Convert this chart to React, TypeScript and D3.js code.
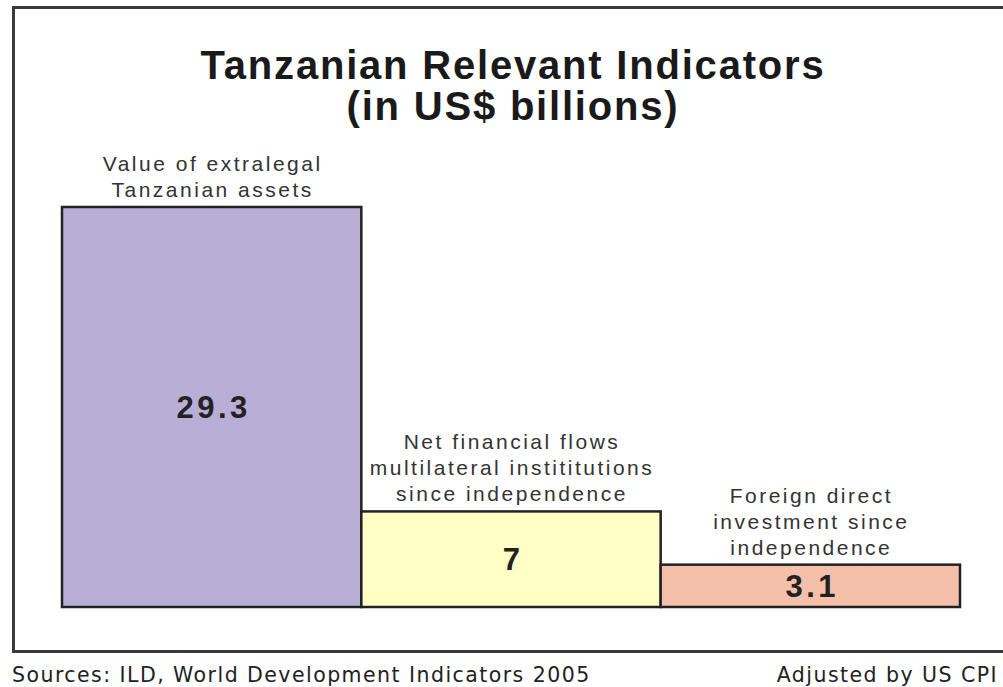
import React from "react";
import * as d3 from "d3";

const categories = ["extralegal", "multilateral", "fdi"];
const values = [29.3, 7, 3.1];
const valueLabels = ["29.3", "7", "3.1"];
const categoryLabels = [
  ["Value of extralegal", "Tanzanian assets"],
  ["Net financial flows", "multilateral instititutions", "since independence"],
  ["Foreign direct", "investment since", "independence"],
];
const colors = ["#b9aed6", "#ffffc6", "#f5c0aa"];
const titleLines = ["Tanzanian Relevant Indicators", "(in US$ billions)"];
const sourceText = "Sources: ILD, World Development Indicators 2005";
const noteText = "Adjusted by US CPI";

export default function App() {
  const W = 1003, H = 687;
  const x = d3.scaleBand<string>().domain(categories).range([62, 960]).paddingInner(0).paddingOuter(0);
  const y = d3.scaleLinear().domain([0, 29.3]).range([607, 207]);
  const labelFont = "'Liberation Sans', Arial, sans-serif";
  return (
    <svg width={W} height={H} style={{ position: "absolute", left: 0, top: 0, background: "#fff" }}>
      <rect x={0} y={0} width={W} height={H} fill="#fff" />
      {/* frame */}
      <path d={`M${W + 5},7.5 H13.5 V651.5 H${W + 5}`} fill="none" stroke="#3a3a3a" strokeWidth={3} />
      {titleLines.map((t, i) => (
        <text key={i} x={513} y={79 + i * 41} textAnchor="middle" fontFamily={labelFont} fontWeight="bold" fontSize={40} letterSpacing={1.8} fill="#1a1a1a">
          {t}
        </text>
      ))}
      {categories.map((c, i) => {
        const bx = x(c)!;
        const bw = x.bandwidth();
        const top = y(values[i]);
        const lines = categoryLabels[i];
        const cx = bx + bw / 2;
        return (
          <g key={c}>
            <rect x={bx} y={top} width={bw} height={y(0) - top} fill={colors[i]} stroke="#222" strokeWidth={2.5} />
            {lines.map((l, j) => (
              <text key={j} x={cx + 1} y={top - 10 - (lines.length - 1 - j) * 26} textAnchor="middle" fontFamily={labelFont} fontSize={21} fill="#333" letterSpacing={2.5}>
                {l}
              </text>
            ))}
            <text x={cx + 2} y={Math.min((top + y(0)) / 2 + 11, y(0) - 9)} textAnchor="middle" fontFamily={labelFont} fontWeight="bold" fontSize={31} letterSpacing={3.5} fill="#222">
              {valueLabels[i]}
            </text>
          </g>
        );
      })}
      <text x={12} y={682} fontFamily="'DejaVu Sans', Verdana, sans-serif" fontSize={20.5} letterSpacing={1.45} fill="#222">
        {sourceText}
      </text>
      <text x={998} y={682} textAnchor="end" fontFamily="'DejaVu Sans', Verdana, sans-serif" fontSize={20.5} letterSpacing={1.45} fill="#222">
        {noteText}
      </text>
    </svg>
  );
}
